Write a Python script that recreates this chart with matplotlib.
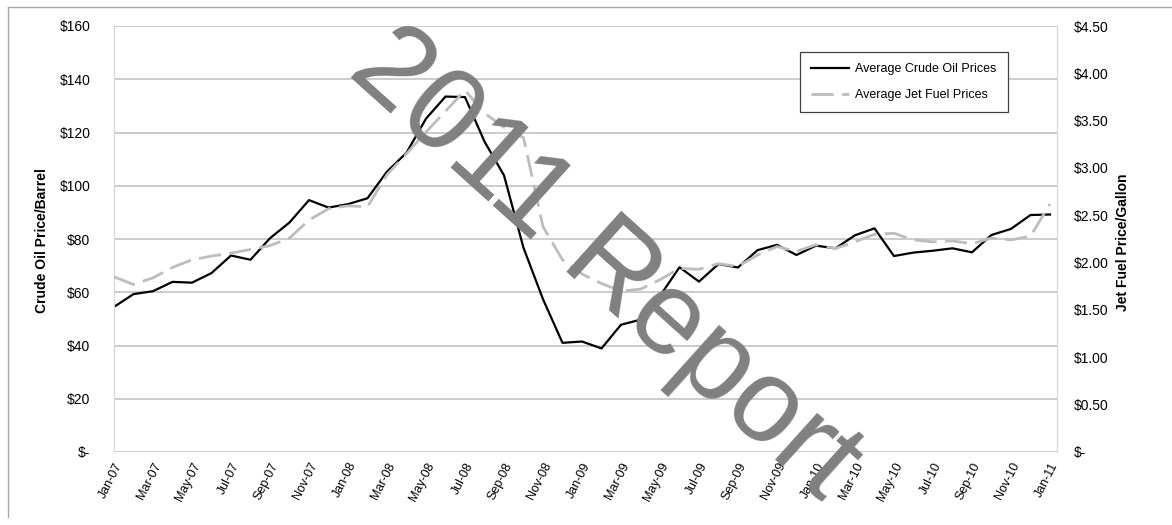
import matplotlib
matplotlib.use("Agg")
import matplotlib.pyplot as plt
from matplotlib.lines import Line2D
import numpy as np
import pandas as pd

plt.rcParams["font.family"] = ["Liberation Sans", "DejaVu Sans"]

# Monthly averages, Jan-07 through Jan-11
months = pd.date_range("2007-01-01", "2011-01-01", freq="MS").strftime("%b-%y").tolist()

crude_oil = [54.5, 59.3, 60.4, 63.9, 63.6, 67.2, 73.8, 72.2, 80.3, 86.2, 94.6, 91.8,
             93.1, 95.3, 105.3, 112.4, 125.2, 133.5, 133.3, 116.6, 103.9, 76.7, 57.4, 41.0,
             41.5, 38.9, 47.8, 49.7, 58.6, 69.4, 64.0, 70.6, 69.3, 75.8, 77.8, 74.0,
             77.5, 76.5, 81.4, 84.0, 73.6, 74.9, 75.6, 76.5, 75.0, 81.5, 83.8, 89.0,
             89.2]

jet_fuel = [1.85, 1.77, 1.84, 1.95, 2.03, 2.07, 2.10, 2.14, 2.18, 2.26, 2.45, 2.57,
            2.60, 2.59, 2.93, 3.15, 3.38, 3.60, 3.82, 3.58, 3.43, 3.32, 2.38, 2.03,
            1.88, 1.78, 1.70, 1.72, 1.82, 1.94, 1.93, 1.99, 1.96, 2.08, 2.17, 2.12,
            2.19, 2.15, 2.22, 2.30, 2.31, 2.24, 2.22, 2.23, 2.20, 2.26, 2.24, 2.28,
            2.62]

left_ticks = [0, 20, 40, 60, 80, 100, 120, 140, 160]
left_labels = ["$-", "$20", "$40", "$60", "$80", "$100", "$120", "$140", "$160"]
right_ticks = [0, 0.5, 1.0, 1.5, 2.0, 2.5, 3.0, 3.5, 4.0, 4.5]
right_labels = ["$-", "$0.50", "$1.00", "$1.50", "$2.00", "$2.50", "$3.00", "$3.50",
                "$4.00", "$4.50"]

W, H = 1172, 525
fig = plt.figure(figsize=(W / 100, H / 100), dpi=100)
ax = fig.add_axes([114 / W, 1 - 452 / H, (1057 - 114) / W, (452 - 26) / H])
ax2 = ax.twinx()

x = np.arange(len(months))
l1, = ax.plot(x, crude_oil, color="black", lw=1.6, zorder=3,
              label="Average Crude Oil Prices")
l2, = ax2.plot(x, jet_fuel, color="#bdbdbd", lw=2.0, dashes=(8, 3), zorder=3,
               label="Average Jet Fuel Prices")

ax.set_xlim(0, 48.36)
ax.set_ylim(0, 160)
ax2.set_ylim(0, 4.5)

ax.set_yticks(left_ticks)
ax.set_yticklabels(left_labels, fontsize=10)
ax2.set_yticks(right_ticks)
ax2.set_yticklabels(right_labels, fontsize=10)
ax.tick_params(axis="y", length=0, pad=17)
ax2.tick_params(axis="y", length=0, pad=12)

ax.set_xticks(x[::2])
ax.set_xticklabels(months[::2], rotation=63, ha="right", rotation_mode="anchor",
                   fontsize=9)
ax.tick_params(axis="x", length=0, pad=6)

ax.grid(axis="y", color="#c4c4c4", lw=1.2)
ax.set_axisbelow(True)

for a in (ax, ax2):
    for side in ("top", "bottom"):
        a.spines[side].set_visible(False)
    a.spines["left"].set_color("#d8d8d8")
    a.spines["right"].set_color("#d8d8d8")

fig.text(42 / W, 1 - 241 / H, "Crude Oil Price/Barrel", rotation=90, fontsize=10,
         fontweight="bold", ha="center", va="center")
fig.text(1123 / W, 1 - 242 / H, "Jet Fuel Price/Gallon", rotation=90, fontsize=10,
         fontweight="bold", ha="center", va="center")

leg = ax2.legend([l1, l2], [l1.get_label(), l2.get_label()], loc="upper left",
                 bbox_to_anchor=(800 / W, 1 - 52 / H), bbox_transform=fig.transFigure,
                 fontsize=9, frameon=True, fancybox=False, framealpha=1,
                 edgecolor="#404040", handlelength=3.0, handletextpad=0.5,
                 labelspacing=1.1, borderpad=0.9, borderaxespad=0)
leg.get_frame().set_linewidth(0.9)

# thin frame around the chart
fig.add_artist(Line2D([8 / W, 8 / W], [1 - 7 / H, 1 - 517 / H],
                      transform=fig.transFigure, color="#a8a8a8", lw=1))
fig.add_artist(Line2D([8 / W, 1], [1 - 7 / H, 1 - 7 / H],
                      transform=fig.transFigure, color="#a8a8a8", lw=1))

# diagonal watermark
fig.text(604 / W, 1 - 265 / H, "2011 Report", rotation=-42, fontsize=85,
         color="#808080", ha="center", va="center", zorder=20)

fig.savefig("out.png", dpi=100)
